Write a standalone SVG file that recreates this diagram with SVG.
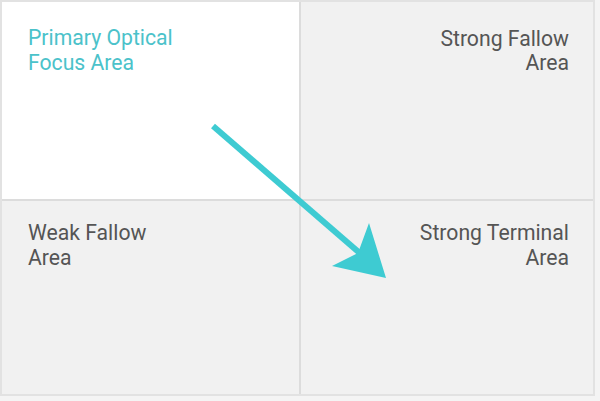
<svg xmlns="http://www.w3.org/2000/svg" width="600" height="401" viewBox="0 0 600 401">
<style>
.t{font-family:Roboto,"Open Sans","DejaVu Sans",sans-serif;font-size:21.2px;fill:#555}
.c{fill:#4bc2ca}
.r{text-anchor:end}
.div{stroke:#dcdcdc;stroke-width:2;fill:none}
</style>
<rect width="600" height="401" fill="#f4f4f4"/>
<rect x="1" y="1" width="593" height="394" fill="#f1f1f1"/>
<g id="primary">
<rect x="1" y="1" width="299" height="199" fill="#ffffff"/>
<text class="t c" x="28" y="45">Primary Optical<tspan x="28" dy="25">Focus Area</tspan></text>
</g>
<g id="strong-fallow">
<text class="t r" x="569" y="46">Strong Fallow<tspan x="569" dy="24">Area</tspan></text>
</g>
<g id="weak-fallow">
<text class="t" x="28" y="240">Weak Fallow<tspan x="28" dy="25">Area</tspan></text>
</g>
<g id="strong-terminal">
<text class="t r" x="569" y="240">Strong Terminal<tspan x="569" dy="25">Area</tspan></text>
</g>
<g id="dividers">
<line class="div" x1="300" y1="1" x2="300" y2="395"/>
<line class="div" x1="1" y1="200" x2="594" y2="200"/>
<rect x="1" y="1" width="593" height="394" fill="none" stroke="#e2e2e2" stroke-width="2"/>
</g>
<g id="connectors">
<line x1="213" y1="126" x2="362" y2="255" stroke="#3ecbd2" stroke-width="6" stroke-linecap="butt"/>
<polygon points="386,278 369,223 358,253 332,266" fill="#3ecbd2"/>
</g>
</svg>
